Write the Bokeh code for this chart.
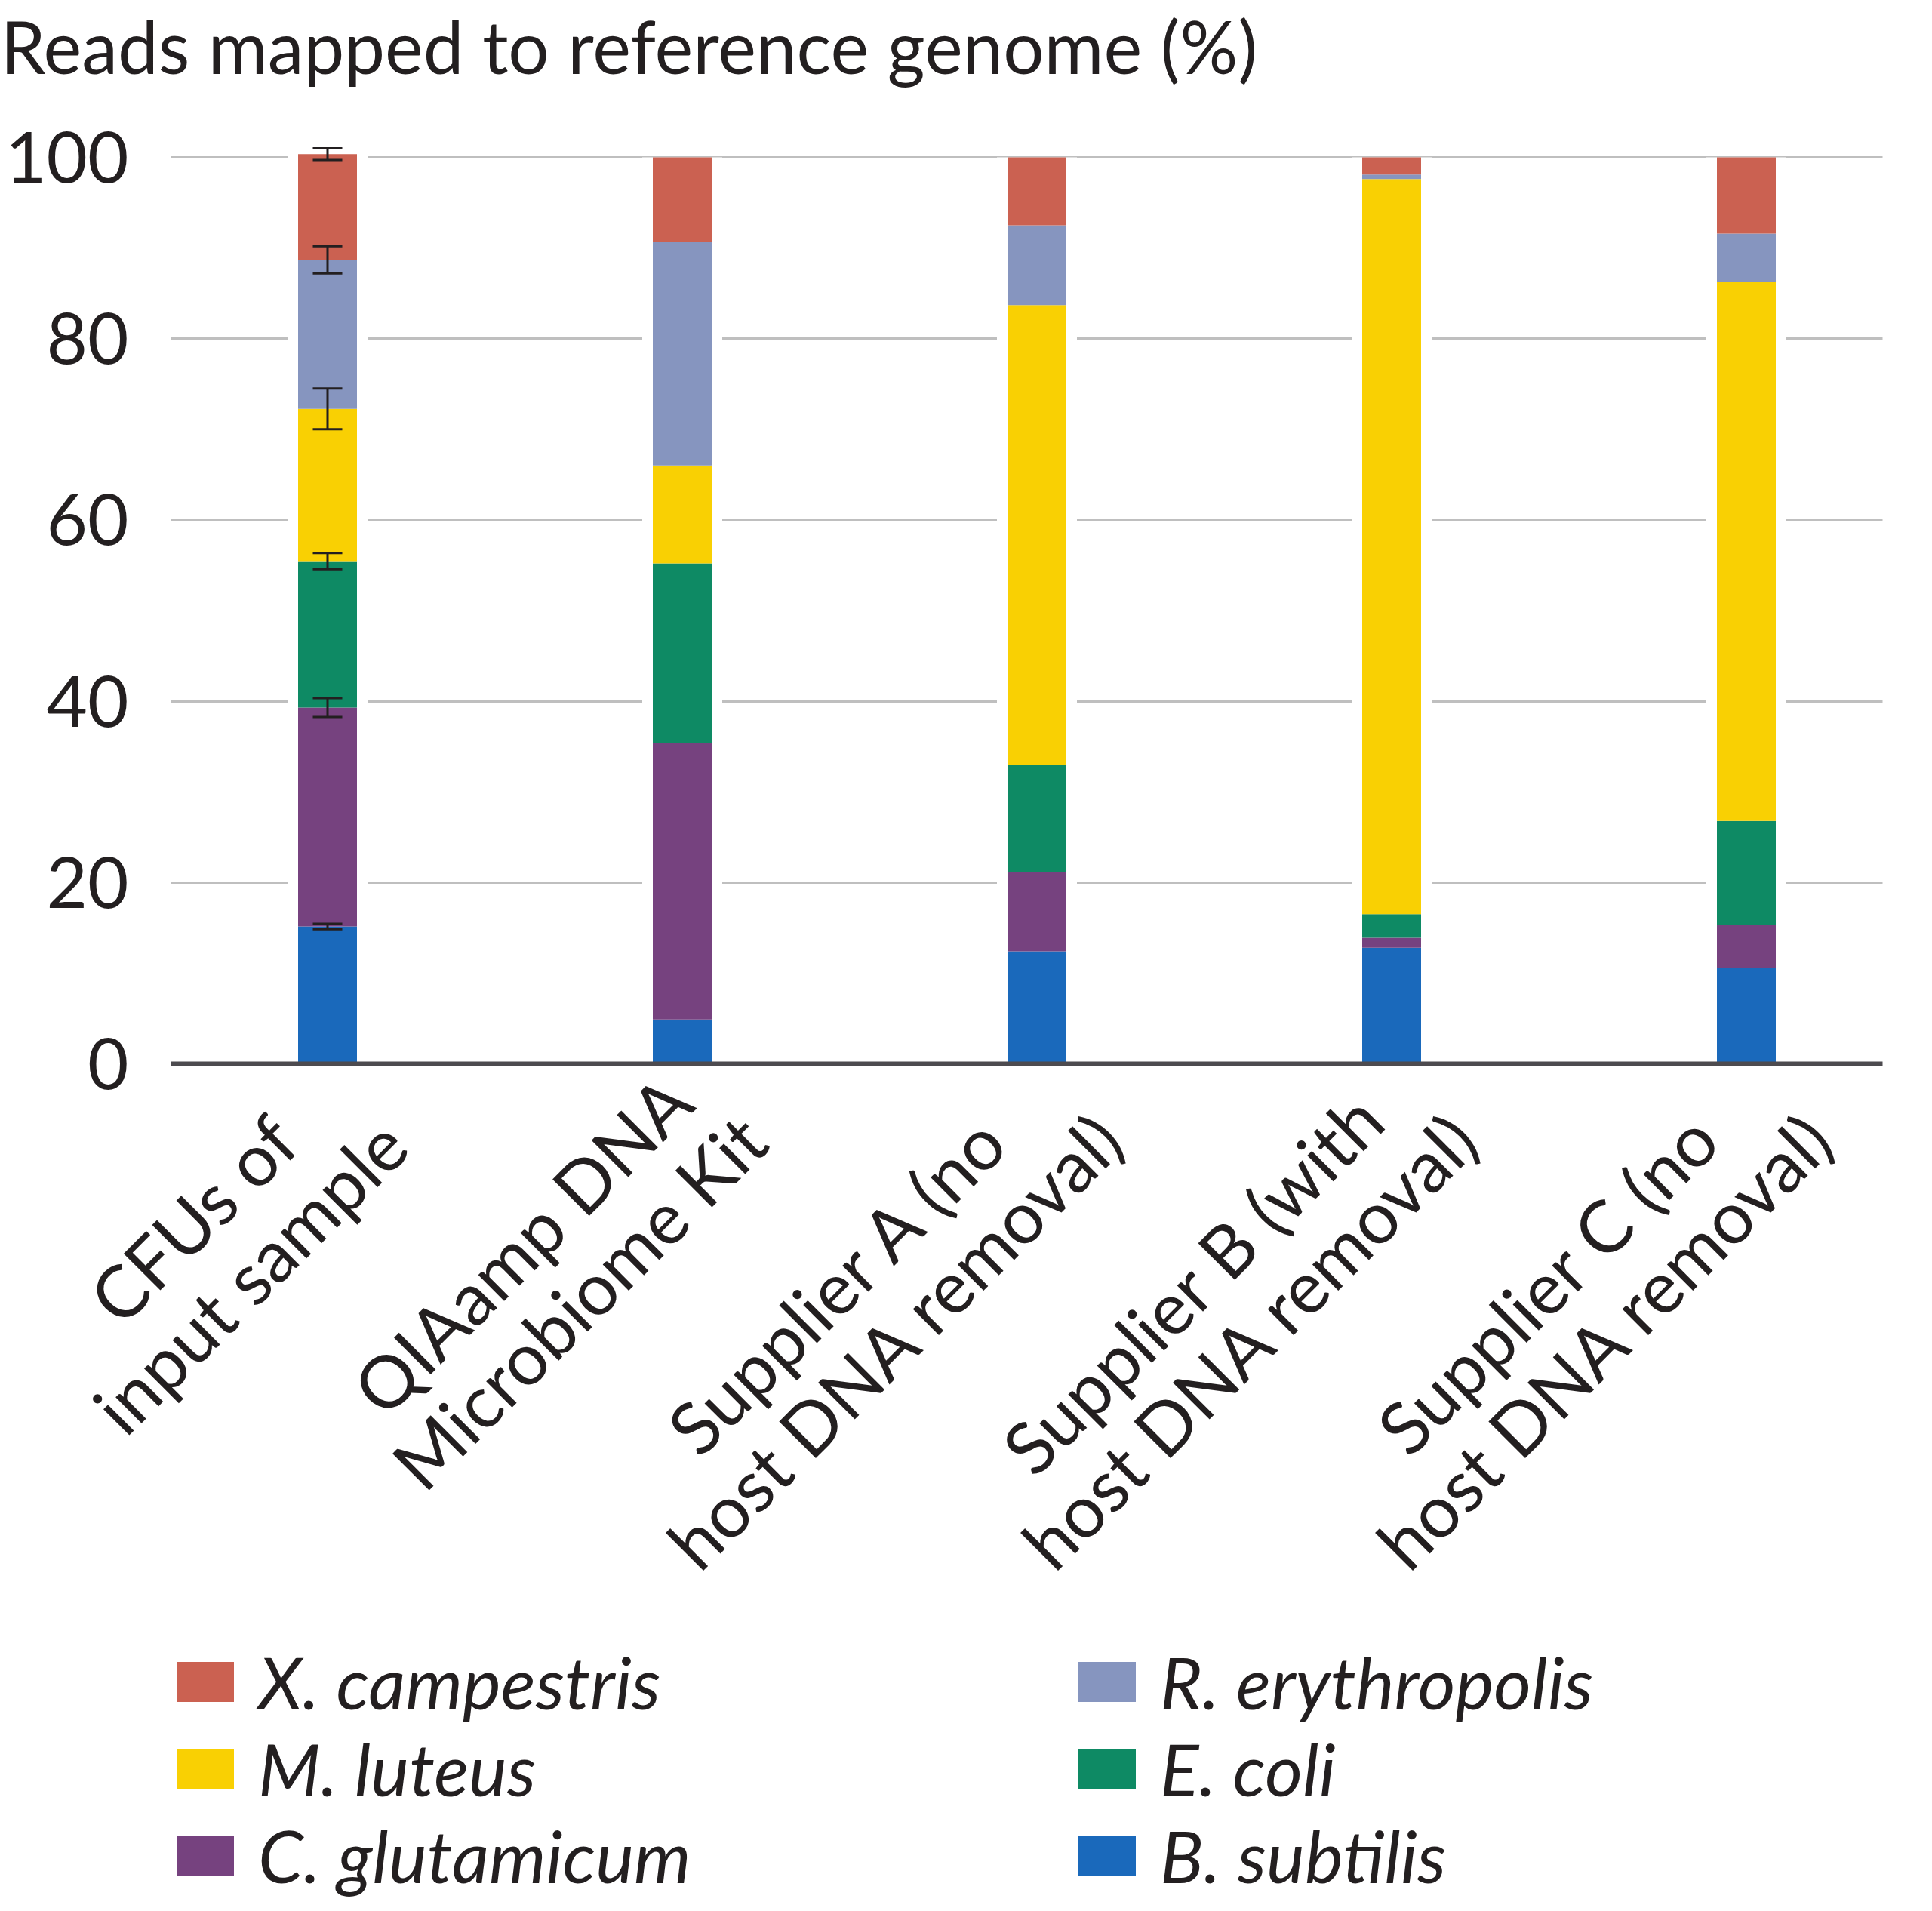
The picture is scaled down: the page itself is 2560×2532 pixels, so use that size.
import numpy as np
from bokeh.plotting import figure
from bokeh.models import (ColumnDataSource, Range1d, FixedTicker, Grid, Whisker, TeeHead,
                          Legend, LegendItem, Label)
from bokeh.core.properties import value
from bokeh.embed import file_html
from bokeh.resources import INLINE

# ---------------- data ----------------
categories = ["CFUs of\ninput sample", "QIAamp DNA\nMicrobiome Kit",
              "Supplier A (no\nhost DNA removal)", "Supplier B (with\nhost DNA removal)",
              "Supplier C (no\nhost DNA removal)"]
# stacked from bottom to top
species = ["B. subtilis", "C. glutamicum", "E. coli", "M. luteus", "R. erythropolis", "X. campestris"]
b_subtilis = [15.15, 4.9, 12.4, 12.8, 10.6]
c_glutamicum = [24.15, 30.5, 8.8, 1.1, 4.7]
e_coli = [16.15, 19.8, 11.8, 2.6, 11.5]
m_luteus = [16.8, 10.8, 50.7, 81.1, 59.5]
r_erythropolis = [16.45, 24.7, 8.8, 0.5, 5.3]
x_campestris = [11.65, 9.3, 7.5, 1.9, 8.4]
# error bars of the CFU input sample, half range at each stacked boundary (bottom to top)
cfu_errors = [0.3, 1.05, 0.9, 2.25, 1.5, 0.65]
y_ticks = [0, 20, 40, 60, 80, 100]
title_text = "Reads mapped to reference genome (%)"

series = [b_subtilis, c_glutamicum, e_coli, m_luteus, r_erythropolis, x_campestris]
colors = ["#1A69BB", "#76427F", "#0E8A64", "#F9D003", "#8695BF", "#CB6151"]

# ---------------- layout / style ----------------
FONT = "Lato"
FS = "96px"
TEXT = "#231F20"
W, H = 2544, 2516
AXIS_Y = 1409            # pixel row of y=0 from figure top
PX_PER_UNIT = 12.01
CAT_PX = 470.0
FIRST_CENTER = 433.5     # pixel column of first bar centre
PLOT_LEFT, PLOT_RIGHT = 226, 2494
LABEL_RIGHT = 170
BAR_W = 78 / CAT_PX
HALO_W = 106 / CAT_PX

def px_to_x(px):
    return (px - FIRST_CENTER) / CAT_PX

x_start, x_end = px_to_x(0), px_to_x(W)
y_end = AXIS_Y / PX_PER_UNIT
y_start = -(H - AXIS_Y) / PX_PER_UNIT
plot_bounds = (px_to_x(PLOT_LEFT), px_to_x(PLOT_RIGHT))

p = figure(width=W, height=H, x_range=Range1d(x_start, x_end), y_range=Range1d(y_start, y_end),
           output_backend="svg", toolbar_location=None, x_axis_location=None,
           y_axis_location=None, min_border=0)
p.outline_line_color = None
p.background_fill_color = "white"
p.border_fill_color = "white"
# remove any default grids
for g in list(p.center):
    if isinstance(g, Grid):
        g.visible = False

# horizontal grid lines limited to the plotting area
p.add_layout(Grid(dimension=1, ticker=FixedTicker(ticks=y_ticks[1:]), cross_bounds=plot_bounds,
                  grid_line_color="#BFBFBF", grid_line_width=3))
# baseline (x axis line)
p.add_layout(Grid(dimension=1, ticker=FixedTicker(ticks=y_ticks[:1]), cross_bounds=plot_bounds,
                  grid_line_color="#4D4B4F", grid_line_width=6, level="guide"))

# y tick labels
p.text(x=[px_to_x(LABEL_RIGHT)] * len(y_ticks), y=y_ticks, text=[str(t) for t in y_ticks],
       text_align="right", text_baseline="middle", text_font=value(FONT),
       text_font_size="94px", text_color=TEXT)

xs = list(range(len(categories)))
arr = np.array(series, dtype=float)
tops = np.cumsum(arr, axis=0)
bottoms = tops - arr
totals = tops[-1]

# white halo behind bars (interrupts grid lines)
p.vbar(x=xs, bottom=0, top=list(totals), width=HALO_W, fill_color="white", line_color=None)

renderers = {}
for i, name in enumerate(species):
    src = ColumnDataSource(dict(x=xs, bottom=list(bottoms[i]), top=list(tops[i])))
    r = p.vbar(x="x", bottom="bottom", top="top", width=BAR_W, source=src,
               fill_color=colors[i], line_color=None)
    renderers[name] = r

# error bars for CFU sample
cfu_tops = tops[:, 0]
err = np.array(cfu_errors)
wsrc = ColumnDataSource(dict(base=[xs[0]] * len(species), upper=list(cfu_tops + err),
                             lower=list(cfu_tops - err)))
whisk = Whisker(source=wsrc, base="base", upper="upper", lower="lower", dimension="height",
                line_color=TEXT, line_width=3, level="overlay",
                upper_head=TeeHead(size=39, line_color=TEXT, line_width=3),
                lower_head=TeeHead(size=39, line_color=TEXT, line_width=3))
p.add_layout(whisk)

# category labels, rotated 45 degrees, centred lines, right end near the bar
half = [0.5 * 96 * max(len(s) for s in c.split("\n")) / 2 * 0.7071 for c in categories]
lsrc = ColumnDataSource(dict(x=xs, y=[0] * len(xs), text=categories,
                             xo=[62 - h for h in half], yo=[39 + h for h in half]))
p.text(x="x", y="y", text="text", source=lsrc, angle=np.pi / 4, x_offset="xo", y_offset="yo",
       text_align="center", text_baseline="middle", text_font=value(FONT),
       text_font_size=FS, text_line_height=0.93, text_color=TEXT)

# title
p.add_layout(Label(x=0, y=H - 60, x_units="screen", y_units="screen", text=title_text,
                   text_font=FONT, text_font_size=FS, text_baseline="alphabetic",
                   text_color=TEXT))

# legends (two columns)
def make_legend(names, xpos):
    items = [LegendItem(label=n, renderers=[renderers[n]]) for n in names]
    return Legend(items=items, location=(xpos, 1), orientation="vertical", padding=0, margin=0,
                  spacing=0, glyph_width=95, glyph_height=66, label_height=96,
                  label_standoff=23, label_text_font=FONT, label_text_font_size=FS,
                  label_text_font_style="italic", label_text_color=TEXT,
                  border_line_color=None, background_fill_alpha=0)

p.add_layout(make_legend(["X. campestris", "M. luteus", "C. glutamicum"], 224))
p.add_layout(make_legend(["R. erythropolis", "E. coli", "B. subtilis"], 1419))

open("out.html", "w").write(file_html(p, INLINE))
